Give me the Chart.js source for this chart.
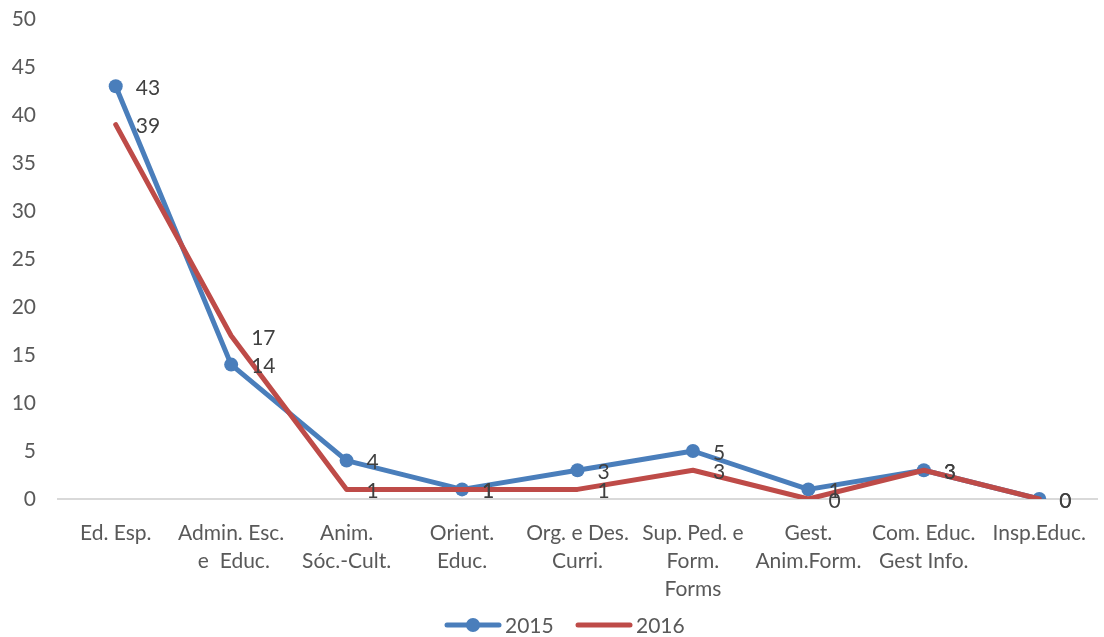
<!DOCTYPE html>
<html>
<head>
<meta charset="utf-8">
<script src="https://cdn.jsdelivr.net/npm/chart.js@4/dist/chart.umd.min.js"></script>
<style>
  html, body { margin: 0; padding: 0; background: #ffffff; }
  #wrap { width: 1104px; height: 637px; position: relative; }
</style>
</head>
<body>
<div id="wrap"><canvas id="c" width="1104" height="637"></canvas></div>
<script>
// Areas of specialisation
const categories = [
  "Ed. Esp.",
  ["Admin. Esc.", " e  Educ."],
  ["Anim.", "Sóc.-Cult."],
  ["Orient.", "Educ."],
  ["Org. e Des.", "Curri."],
  ["Sup. Ped. e", "Form.", "Forms"],
  ["Gest.", "Anim.Form."],
  ["Com. Educ.", "Gest Info."],
  "Insp.Educ."
];
const seriesNames = ["2015", "2016"];
const values2015 = [43, 14, 4, 1, 3, 5, 1, 3, 0];
const values2016 = [39, 17, 1, 1, 1, 3, 0, 3, 0];
const yTicks = [0, 5, 10, 15, 20, 25, 30, 35, 40, 45, 50];

const BLUE = "#4a7ebb";
const RED = "#be4b48";
const TEXT = "#595959";
const LABEL = "#404040";
const FONT = "Lato, 'Open Sans', sans-serif";
const FONT_SIZE = 21;

// value labels to the right of each point
const valueLabels = {
  id: "valueLabels",
  afterDatasetsDraw(chart) {
    const ctx = chart.ctx;
    ctx.save();
    ctx.font = FONT_SIZE + "px " + FONT;
    ctx.fillStyle = LABEL;
    ctx.textAlign = "left";
    ctx.textBaseline = "middle";
    chart.data.datasets.forEach((ds, i) => {
      const meta = chart.getDatasetMeta(i);
      meta.data.forEach((pt, j) => {
        ctx.fillText(String(ds.data[j]), pt.x + 20, pt.y + 2);
      });
    });
    ctx.restore();
  }
};

// legend below the axis: line sample (with marker for 2015) and year
const bottomLegend = {
  id: "bottomLegend",
  afterDraw(chart) {
    const ctx = chart.ctx;
    const y = 625;
    const items = [
      { x: 447, color: BLUE, marker: true, text: seriesNames[0] },
      { x: 578, color: RED, marker: false, text: seriesNames[1] }
    ];
    ctx.save();
    items.forEach(it => {
      ctx.strokeStyle = it.color;
      ctx.lineWidth = 5;
      ctx.lineCap = "round";
      ctx.beginPath();
      ctx.moveTo(it.x, y);
      ctx.lineTo(it.x + 52, y);
      ctx.stroke();
      if (it.marker) {
        ctx.fillStyle = it.color;
        ctx.beginPath();
        ctx.arc(it.x + 26, y, 7, 0, Math.PI * 2);
        ctx.fill();
      }
      ctx.fillStyle = TEXT;
      ctx.font = FONT_SIZE + "px " + FONT;
      ctx.textAlign = "left";
      ctx.textBaseline = "middle";
      ctx.fillText(it.text, it.x + 58, y + 1);
    });
    ctx.restore();
  }
};

new Chart(document.getElementById("c"), {
  type: "line",
  data: {
    labels: categories,
    datasets: [
      {
        label: seriesNames[0],
        data: values2015,
        borderColor: BLUE,
        backgroundColor: BLUE,
        borderWidth: 5,
        pointRadius: 7,
        pointHoverRadius: 7,
        pointBorderWidth: 0,
        pointBackgroundColor: BLUE,
        borderJoinStyle: "round",
        borderCapStyle: "round",
        tension: 0,
        order: 1
      },
      {
        label: seriesNames[1],
        data: values2016,
        borderColor: RED,
        backgroundColor: RED,
        borderWidth: 5,
        pointRadius: 0,
        pointHoverRadius: 0,
        borderJoinStyle: "round",
        borderCapStyle: "round",
        tension: 0,
        order: 0
      }
    ]
  },
  options: {
    responsive: false,
    animation: false,
    layout: { padding: { top: 19, right: 4, left: 0, bottom: 0 } },
    plugins: {
      legend: { display: false },
      tooltip: { enabled: false }
    },
    scales: {
      x: {
        offset: true,
        grid: { display: false, drawTicks: false },
        border: { display: true, color: "#d9d9d9", width: 2 },
        ticks: {
          autoSkip: false,
          maxRotation: 0,
          minRotation: 0,
          padding: 20,
          color: TEXT,
          font: { family: FONT, size: FONT_SIZE, lineHeight: 28 / FONT_SIZE }
        },
        afterFit(scale) {
          scale.height = 138;
          scale.paddingLeft = 0;
          scale.paddingRight = 0;
        }
      },
      y: {
        min: 0,
        max: 50,
        afterBuildTicks(scale) { scale.ticks = yTicks.map(v => ({ value: v })); },
        grid: { display: false, drawTicks: false },
        border: { display: false },
        ticks: {
          padding: 22,
          color: TEXT,
          font: { family: FONT, size: FONT_SIZE }
        },
        afterFit(scale) {
          scale.width = 58;
          scale.paddingTop = 0;
          scale.paddingBottom = 0;
        }
      }
    }
  },
  plugins: [valueLabels, bottomLegend]
});
</script>
</body>
</html>
